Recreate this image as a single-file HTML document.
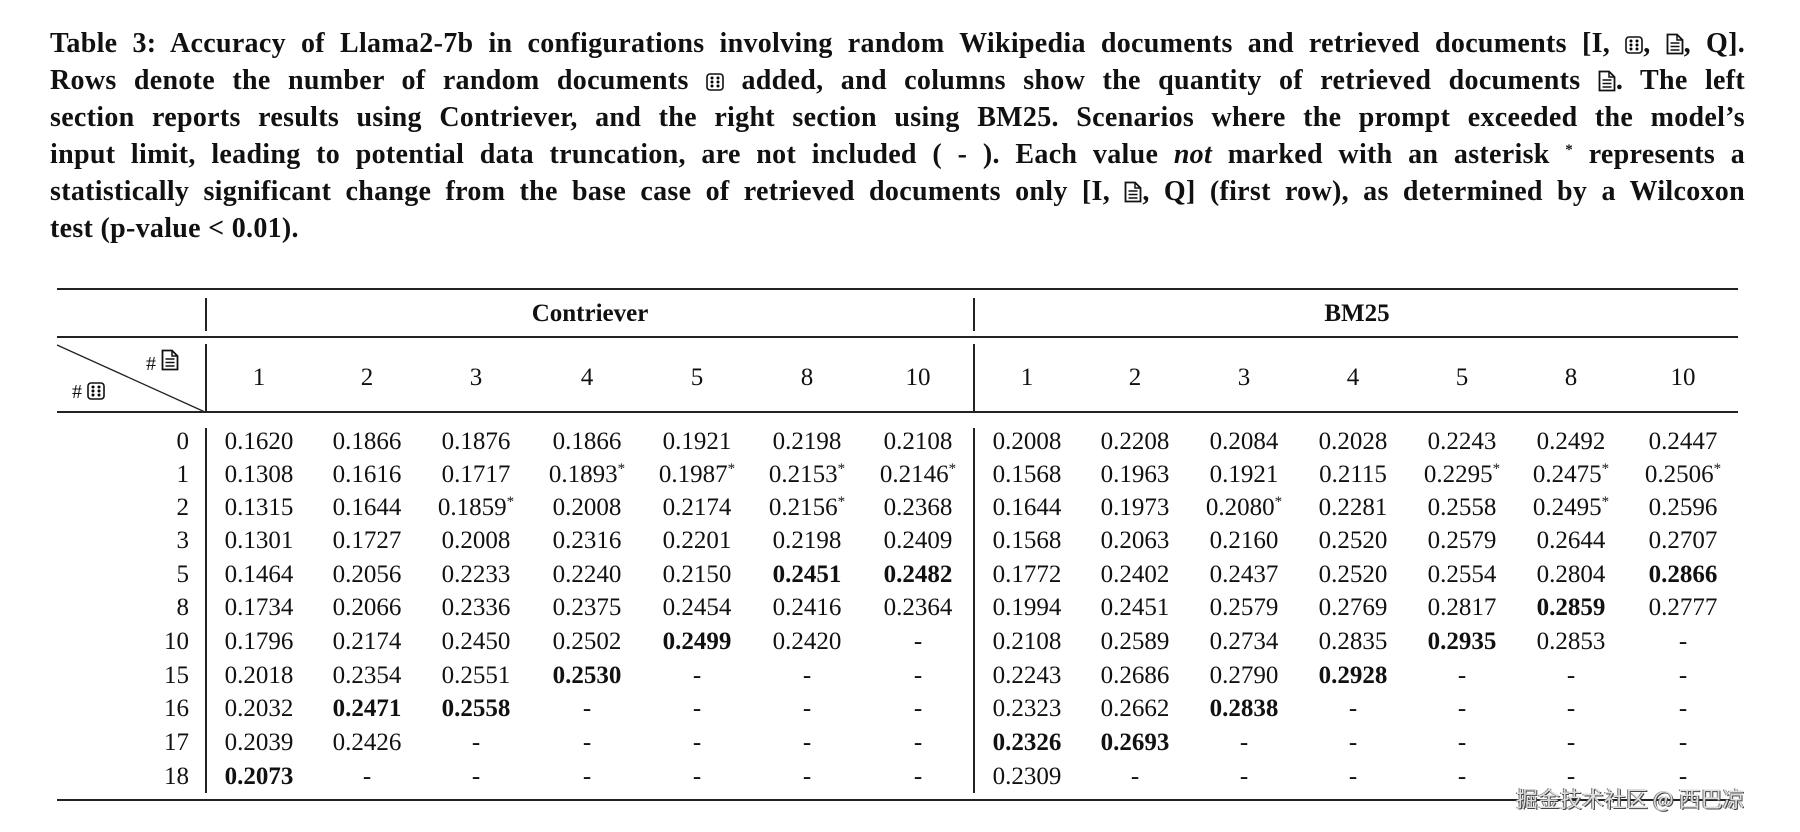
<!DOCTYPE html>
<html><head><meta charset="utf-8">
<style>
html,body{margin:0;padding:0;background:#fff;}
body{width:1800px;height:832px;position:relative;overflow:hidden;font-family:"Liberation Serif","DejaVu Serif",serif;color:#111;}
.cap{position:absolute;left:50px;width:1695px;font-weight:bold;font-size:28px;letter-spacing:0.3px;line-height:32px;text-align:justify;text-align-last:justify;white-space:nowrap;}
.cap.last{text-align-last:left;}
.rule{position:absolute;left:57px;width:1681px;background:#222;}
.vl{position:absolute;width:1.5px;background:#222;}
.c{position:absolute;transform:translate(-50%,-50%);font-size:25px;white-space:nowrap;}
.r{position:absolute;transform:translate(-100%,-50%);font-size:25px;}
b{font-weight:bold;}
sup{font-size:15px;vertical-align:9px;line-height:0;}
svg.ic{vertical-align:-3px;}
.wm{position:absolute;left:1516px;top:782px;font-family:"Noto Sans CJK SC","WenQuanYi Zen Hei",sans-serif;font-size:22px;color:#ddd;text-shadow:1px 1px 0 #444,-1px 0 0 #777;white-space:nowrap;}
</style></head><body>
<div class="cap" style="top:28px">Table 3: Accuracy of Llama2-7b in configurations involving random Wikipedia documents and retrieved documents [I, <svg class="ic" width="18" height="20" viewBox="0 0 18 20"><rect x="1" y="2" width="16" height="16" rx="3" fill="none" stroke="#111" stroke-width="1.6"/><circle cx="6" cy="6" r="1.5"/><circle cx="12" cy="6" r="1.5"/><circle cx="6" cy="10" r="1.5"/><circle cx="12" cy="10" r="1.5"/><circle cx="6" cy="14" r="1.5"/><circle cx="12" cy="14" r="1.5"/></svg>, <svg class="ic" width="18" height="22" viewBox="0 0 18 22"><path d="M1.5 1.5H11L16.5 7V20.5H1.5Z" fill="none" stroke="#111" stroke-width="1.8"/><path d="M11 1.5V7H16.5" fill="none" stroke="#111" stroke-width="1.5"/><path d="M4.5 10H13.5M4.5 13.5H13.5M4.5 17H13.5" stroke="#111" stroke-width="1.6"/></svg>, Q].</div>
<div class="cap" style="top:65px">Rows denote the number of random documents <svg class="ic" width="18" height="20" viewBox="0 0 18 20"><rect x="1" y="2" width="16" height="16" rx="3" fill="none" stroke="#111" stroke-width="1.6"/><circle cx="6" cy="6" r="1.5"/><circle cx="12" cy="6" r="1.5"/><circle cx="6" cy="10" r="1.5"/><circle cx="12" cy="10" r="1.5"/><circle cx="6" cy="14" r="1.5"/><circle cx="12" cy="14" r="1.5"/></svg> added, and columns show the quantity of retrieved documents <svg class="ic" width="18" height="22" viewBox="0 0 18 22"><path d="M1.5 1.5H11L16.5 7V20.5H1.5Z" fill="none" stroke="#111" stroke-width="1.8"/><path d="M11 1.5V7H16.5" fill="none" stroke="#111" stroke-width="1.5"/><path d="M4.5 10H13.5M4.5 13.5H13.5M4.5 17H13.5" stroke="#111" stroke-width="1.6"/></svg>. The left</div>
<div class="cap" style="top:102px">section reports results using Contriever, and the right section using BM25. Scenarios where the prompt exceeded the model’s</div>
<div class="cap" style="top:139px">input limit, leading to potential data truncation, are not included ( - ). Each value <i>not</i> marked with an asterisk <sup>*</sup> represents a</div>
<div class="cap" style="top:176px">statistically significant change from the base case of retrieved documents only [I, <svg class="ic" width="18" height="22" viewBox="0 0 18 22"><path d="M1.5 1.5H11L16.5 7V20.5H1.5Z" fill="none" stroke="#111" stroke-width="1.8"/><path d="M11 1.5V7H16.5" fill="none" stroke="#111" stroke-width="1.5"/><path d="M4.5 10H13.5M4.5 13.5H13.5M4.5 17H13.5" stroke="#111" stroke-width="1.6"/></svg>, Q] (first row), as determined by a Wilcoxon</div>
<div class="cap last" style="top:213px">test (p-value &lt; 0.01).</div>

<div class="rule" style="top:288px;height:2px"></div>
<div class="rule" style="top:336px;height:1.5px"></div>
<div class="rule" style="top:411px;height:1.5px"></div>
<div class="rule" style="top:799px;height:2px"></div>

<div class="vl" style="left:205px;top:298px;height:33px"></div>
<div class="vl" style="left:973px;top:298px;height:33px"></div>
<div class="vl" style="left:205px;top:344px;height:68px"></div>
<div class="vl" style="left:973px;top:344px;height:68px"></div>
<div class="vl" style="left:205px;top:428px;height:365px"></div>
<div class="vl" style="left:973px;top:428px;height:365px"></div>

<svg style="position:absolute;left:0;top:0" width="220" height="420"><line x1="57" y1="345" x2="205" y2="412" stroke="#222" stroke-width="1.3"/></svg>
<div style="position:absolute;left:146px;top:348px;font-size:20px">#
<svg class="ic" width="18" height="24" viewBox="0 0 18 22" style="vertical-align:-2px"><path d="M1.5 1.5H11L16.5 7V20.5H1.5Z" fill="none" stroke="#111" stroke-width="1.8"/><path d="M11 1.5V7H16.5" fill="none" stroke="#111" stroke-width="1.5"/><path d="M4.5 10H13.5M4.5 13.5H13.5M4.5 17H13.5" stroke="#111" stroke-width="1.6"/></svg></div>
<div style="position:absolute;left:72px;top:381px;font-size:20px"># <svg class="ic" width="18" height="20" viewBox="0 0 18 20"><rect x="1" y="2" width="16" height="16" rx="3" fill="none" stroke="#111" stroke-width="1.6"/><circle cx="6" cy="6" r="1.5"/><circle cx="12" cy="6" r="1.5"/><circle cx="6" cy="10" r="1.5"/><circle cx="12" cy="10" r="1.5"/><circle cx="6" cy="14" r="1.5"/><circle cx="12" cy="14" r="1.5"/></svg></div>

<div class="c" style="left:590px;top:314px;font-weight:bold;font-size:25px">Contriever</div>
<div class="c" style="left:1357px;top:314px;font-weight:bold;font-size:25px">BM25</div>

<div id="t"></div>
<div class="wm">掘金技术社区 @ 西巴凉</div>

<script>
var xs=[259,367,476,587,697,807,918,1027,1135,1244,1353,1462,1571,1683];
var hd=["1","2","3","4","5","8","10","1","2","3","4","5","8","10"];
var ys=[442,475,508,541,575,608,642,676,709,743,777];
var lab=["0","1","2","3","5","8","10","15","16","17","18"];
var D=[
"0.1620 0.1866 0.1876 0.1866 0.1921 0.2198 0.2108 0.2008 0.2208 0.2084 0.2028 0.2243 0.2492 0.2447",
"0.1308 0.1616 0.1717 0.1893* 0.1987* 0.2153* 0.2146* 0.1568 0.1963 0.1921 0.2115 0.2295* 0.2475* 0.2506*",
"0.1315 0.1644 0.1859* 0.2008 0.2174 0.2156* 0.2368 0.1644 0.1973 0.2080* 0.2281 0.2558 0.2495* 0.2596",
"0.1301 0.1727 0.2008 0.2316 0.2201 0.2198 0.2409 0.1568 0.2063 0.2160 0.2520 0.2579 0.2644 0.2707",
"0.1464 0.2056 0.2233 0.2240 0.2150 !0.2451 !0.2482 0.1772 0.2402 0.2437 0.2520 0.2554 0.2804 !0.2866",
"0.1734 0.2066 0.2336 0.2375 0.2454 0.2416 0.2364 0.1994 0.2451 0.2579 0.2769 0.2817 !0.2859 0.2777",
"0.1796 0.2174 0.2450 0.2502 !0.2499 0.2420 - 0.2108 0.2589 0.2734 0.2835 !0.2935 0.2853 -",
"0.2018 0.2354 0.2551 !0.2530 - - - 0.2243 0.2686 0.2790 !0.2928 - - -",
"0.2032 !0.2471 !0.2558 - - - - 0.2323 0.2662 !0.2838 - - - -",
"0.2039 0.2426 - - - - - !0.2326 !0.2693 - - - - -",
"!0.2073 - - - - - - 0.2309 - - - - - -"];
var h="";
for(var i=0;i<14;i++)h+='<div class="c" style="left:'+xs[i]+'px;top:378px">'+hd[i]+'</div>';
for(var r=0;r<11;r++){
 h+='<div class="r" style="left:189px;top:'+ys[r]+'px">'+lab[r]+'</div>';
 var v=D[r].split(" ");
 for(var i=0;i<14;i++){
  var s=v[i],b=false,st="";
  if(s[0]=="!"){b=true;s=s.slice(1);}
  if(s.slice(-1)=="*"){s=s.slice(0,-1);st='<sup>*</sup>';}
  if(b)s='<b>'+s+'</b>';
  h+='<div class="c" style="left:'+xs[i]+'px;top:'+ys[r]+'px">'+s+st+'</div>';
 }
}
document.getElementById("t").innerHTML=h;
</script>
</body></html>
